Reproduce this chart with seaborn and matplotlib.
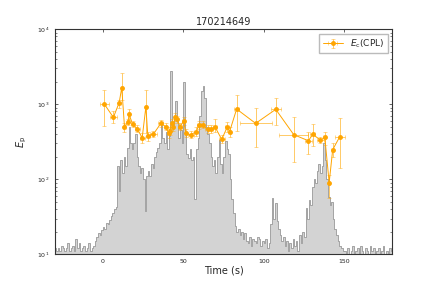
import numpy as np
import pandas as pd
import matplotlib
matplotlib.use("Agg")
import matplotlib.pyplot as plt
import seaborn as sns

# light curve, 1 s bins starting at -30 s (counts)
lc_start = -30
lc_counts = [
    12, 11, 12, 11, 13, 12, 11, 12, 14, 11,
    12, 13, 11, 16, 12, 14, 11, 12, 13, 11,
    12, 14, 11, 12, 13, 15, 17, 19, 18, 21,
    23, 22, 26, 25, 29, 32, 35, 40, 43, 150,
    70, 180, 120, 200, 150, 260, 490, 300, 250, 300,
    400, 200, 150, 120, 140, 100, 38, 110, 130, 110,
    160, 140, 200, 230, 260, 300, 550, 350, 300, 420,
    250, 380, 2800, 500, 650, 1100, 600, 350, 450, 300,
    2000, 400, 220, 190, 250, 180, 200, 55, 250, 350,
    700, 1500, 1750, 1200, 500, 400, 300, 200, 150, 180,
    120, 200, 330, 160, 120, 200, 320, 250, 220, 100,
    55, 35, 24, 20, 22, 18, 20, 16, 19, 15,
    14, 17, 13, 16, 15, 14, 17, 16, 13, 15,
    14, 16, 12, 14, 25, 57, 30, 48, 28, 22,
    18, 15, 17, 13, 15, 11, 14, 12, 16, 13,
    15, 11, 18, 14, 20, 17, 41, 30, 53, 45,
    80, 100, 90, 130, 160, 120, 150, 300, 180, 100,
    58, 45, 50, 30, 22, 18, 15, 13, 12, 11,
    11, 10, 12, 10, 11, 13, 10, 11, 12, 10,
    13, 11, 10, 12, 11, 10, 13, 11, 12, 10,
    11, 12, 10, 11, 13, 10, 11, 10, 12, 11,
]

# Ec (CPL) time-resolved points
ep_time = [1.0, 6.6, 10.2, 11.8, 13.5, 15.6, 16.4, 18.5, 21.4, 24.5,
           26.8, 28.0, 31.5, 36.1, 39.2, 40.9, 41.5, 42.9, 43.6, 45.0,
           46.1, 48.1, 50.2, 51.7, 54.6, 58.1, 59.8, 62.0, 65.1, 67.2,
           69.7, 73.9, 77.4, 78.8, 83.2, 95.0, 107.5, 118.7, 127.8, 130.5,
           135.3, 138.0, 140.7, 142.9, 147.3]
ep_halfwidth = [2.7, 2.3, 1.0, 0.6, 1.0, 0.8, 0.6, 1.2, 1.5, 1.5,
                0.8, 1.3, 2.0, 1.5, 1.0, 0.7, 0.5, 0.6, 0.6, 0.8,
                0.7, 1.2, 1.0, 0.8, 1.8, 1.2, 1.0, 1.2, 1.3, 1.2,
                1.3, 1.8, 1.2, 1.2, 1.5, 10.0, 3.0, 9.0, 2.0, 1.5,
                2.0, 1.0, 0.8, 0.8, 3.0]
ep_value = [1000, 667, 1050, 1660, 500, 578, 730, 543, 471, 357,
            925, 377, 400, 555, 501, 408, 443, 567, 501, 681,
            628, 501, 596, 408, 392, 430, 527, 533, 462, 462,
            501, 340, 497, 430, 861, 555, 853, 392, 326, 396,
            333, 361, 90, 248, 369]
ep_low = [510, 560, 900, 1150, 430, 520, 610, 490, 430, 300,
          408, 320, 360, 500, 450, 350, 390, 500, 440, 600,
          560, 450, 530, 360, 350, 380, 470, 480, 410, 410,
          420, 300, 420, 370, 440, 270, 520, 170, 220, 275,
          300, 285, 57, 200, 142]
ep_high = [1550, 800, 1150, 2570, 570, 640, 870, 600, 520, 410,
           1550, 430, 445, 610, 560, 470, 500, 640, 570, 760,
           700, 560, 670, 460, 440, 490, 590, 590, 520, 520,
           630, 390, 580, 500, 1330, 900, 1220, 670, 420, 540,
           370, 420, 115, 300, 645]

sns.set_style("ticks")
plt.rcParams["xtick.direction"] = "in"
plt.rcParams["ytick.direction"] = "in"
plt.rcParams["xtick.top"] = True
plt.rcParams["ytick.right"] = True

fig, ax = plt.subplots(figsize=(4.36, 2.91), dpi=100)
fig.subplots_adjust(left=0.125, right=0.9, bottom=0.126, top=0.9)

edges = np.arange(lc_start, lc_start + len(lc_counts) + 1)
lc = pd.DataFrame({"time": edges[:-1] + 0.5, "counts": lc_counts})
sns.histplot(data=lc, x="time", weights="counts", bins=list(edges),
             element="step", fill=True, color="lightgray", alpha=1,
             edgecolor="#999999", linewidth=0.6, ax=ax)

ep_value = np.array(ep_value, dtype=float)
yerr = [ep_value - np.array(ep_low), np.array(ep_high) - ep_value]
ax.errorbar(ep_time, ep_value, xerr=ep_halfwidth, yerr=yerr, fmt="o-",
            color="orange", ecolor=(1.0, 0.65, 0.0, 0.6), ms=2.5, lw=0.7,
            elinewidth=0.7, capsize=1.5, capthick=0.5,
            label=r"$E_{\rm c}$(CPL)")

ax.set_yscale("log")
ax.set_xlim(-30, 180)
ax.set_ylim(10, 1e4)
ax.set_xticks([0, 50, 100, 150])
ax.tick_params(labelsize=4.5, length=2.5, width=0.5)
ax.tick_params(which="minor", length=1.5, width=0.4)
for s in ax.spines.values():
    s.set_linewidth(0.8)
    s.set_color("#333333")

ax.set_title("170214649", fontsize=7, pad=3)
ax.set_xlabel("Time (s)", fontsize=7, labelpad=1)
ax.set_ylabel(r"$E_{\rm p}$", fontsize=7, labelpad=6)
ax.legend(loc="upper right", fontsize=6.5, fancybox=False, framealpha=1,
          edgecolor="#bbbbbb", handlelength=2.2, borderpad=0.4)

fig.savefig("out.png", dpi=100)
